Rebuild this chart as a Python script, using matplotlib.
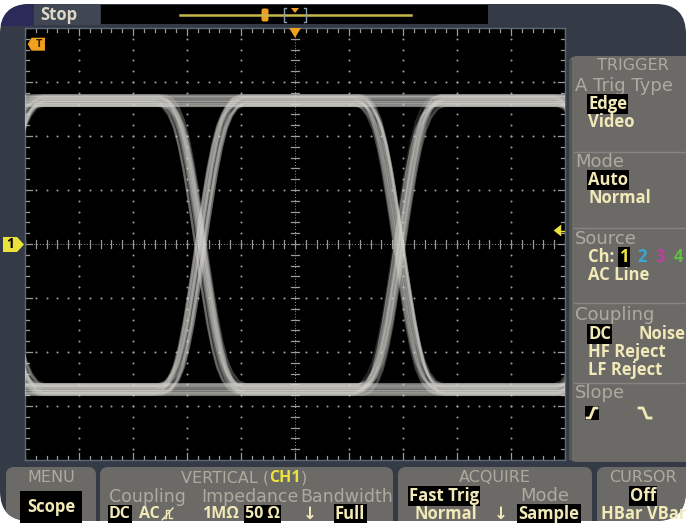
import numpy as np
import matplotlib
matplotlib.use("Agg")
import matplotlib.pyplot as plt
from matplotlib.patches import FancyBboxPatch, Rectangle, Polygon

plt.rcParams['font.family'] = ['Open Sans', 'DejaVu Sans']

# ---- eye diagram (divisions, 1.00 ns/div, 150 mV/div) ----
hi_level = 2.65
lo_level = -2.70
crossings = [-0.46, 3.26, 6.94, 10.64]
# shape of one falling edge around its crossing point
edge_t = [-0.75, -0.62, -0.50, -0.40, -0.31, -0.22, -0.15, -0.07, 0.0,
          0.07, 0.15, 0.22, 0.31, 0.40, 0.50, 0.62, 0.75]
edge_v = [1.0, 0.98, 0.92, 0.83, 0.70, 0.53, 0.37, 0.18, 0.0,
          -0.18, -0.37, -0.53, -0.70, -0.83, -0.92, -0.98, -1.0]
bit_patterns = [format(i, "05b") for i in range(32)]
jitter = [-0.10, -0.05, 0.0, 0.04, 0.08, -0.02, 0.05]
level_shift = [0.07, -0.06, 0.10, -0.09, 0.0, 0.04, -0.03]

# ---- menu texts ----
trigger_items = [("A Trig Type", 86, "head"), ("Edge", 104, "sel"), ("Video", 122, "item"),
                 ("Mode", 162, "head"), ("Auto", 180, "sel"), ("Normal", 198, "item"),
                 ("Source", 239, "head"), ("AC Line", 275, "item"),
                 ("Coupling", 315, "head"), ("DC", 334, "sel"),
                 ("HF Reject", 352, "item"), ("LF Reject", 370, "item"),
                 ("Slope", 393, "head")]
trigger_seps = [152, 228, 303, 383]
source_channels = ["1", "2", "3", "4"]
source_colors = ["#f0e040", "#3aa8d8", "#c040a0", "#60c040"]

CREAM = "#f2e9b8"
HEAD = "#aeaa9e"
PANEL = "#6b6a67"
BODY = "#343b46"
YEL = "#ece23c"
ORANGE = "#f0a020"
HEADFONT = ["DejaVu Sans"]

fig = plt.figure(figsize=(6.86, 5.23), dpi=100)
fig.patch.set_facecolor("white")
ax = fig.add_axes([0, 0, 1, 1])
ax.set_xlim(0, 686)
ax.set_ylim(523, 0)
ax.axis("off")

# device body with rounded corners
body = FancyBboxPatch((0, 4), 686, 517, boxstyle="round,pad=0,rounding_size=30",
                      fc=BODY, ec="none")
ax.add_patch(body)


def clipped(p):
    ax.add_patch(p)
    p.set_clip_path(body)
    return p


def head(x, y, s, ha="left", size=13):
    return ax.text(x, y, s, color=HEAD, fontsize=size, ha=ha, va="center", family=HEADFONT)


# top strip
clipped(Rectangle((0, 4), 34, 22, fc="#2c2a58", ec="none"))
clipped(Rectangle((34, 4), 66, 21, fc="#404754", ec="none"))
ax.text(40, 15, "Stop", color="#ddd8c4", fontsize=12, fontweight="bold", va="center")
clipped(Rectangle((101, 5), 387, 19, fc="black", ec="none"))
ax.plot([180, 411], [15, 15], color="#c8b848", lw=1.8)
clipped(FancyBboxPatch((262, 9), 6, 12, boxstyle="round,pad=0.5,rounding_size=2",
                       fc=ORANGE, ec="none"))
ax.plot([286, 284, 284, 286], [8, 8, 22, 22], color="#8aa0b0", lw=1)
ax.plot([304, 306, 306, 304], [8, 8, 22, 22], color="#8aa0b0", lw=1)
ax.add_patch(Polygon([[291, 8], [299, 8], [295, 13]], closed=True, fc=ORANGE, ec="none"))

# right trigger panel
clipped(FancyBboxPatch((569, 56), 140, 406, boxstyle="round,pad=0,rounding_size=8",
                       fc=PANEL, ec="none"))
clipped(Rectangle((569, 60), 3, 400, fc="#55544f", ec="none"))
head(633, 65, "TRIGGER", ha="center", size=11.5)
for s, y, kind in trigger_items:
    if kind == "head":
        head(575, y, s)
    elif kind == "sel":
        ax.text(588, y, s, color=CREAM, fontsize=12, fontweight="bold", va="center",
                bbox=dict(fc="black", ec="none", pad=1.0))
    else:
        ax.text(588, y, s, color=CREAM, fontsize=12, fontweight="bold", va="center")
t = ax.text(639, 334, "Noise", color=CREAM, fontsize=12, fontweight="bold", va="center")
t.set_clip_path(body)
for y in trigger_seps:
    ax.plot([574, 686], [y, y], color="#858480", lw=1)
ax.text(588, 257, "Ch:", color=CREAM, fontsize=12, fontweight="bold", va="center")
for i, (ch, c) in enumerate(zip(source_channels, source_colors)):
    kw = dict(bbox=dict(fc="black", ec="none", pad=0.6)) if i == 0 else {}
    ax.text(624 + 18 * i, 257, ch, color=c, fontsize=12, fontweight="bold",
            va="center", ha="center", **kw)
# slope icons
clipped(Rectangle((585, 406), 14, 14, fc="black", ec="none"))
ax.plot([587, 590, 594, 597], [418, 418, 408, 408], color=CREAM, lw=2)
ax.plot([639, 643, 647, 651], [408, 408, 418, 418], color=CREAM, lw=2)

# bottom panels
for x0, w in [(6, 90), (100, 293), (398, 194), (597, 100)]:
    clipped(FancyBboxPatch((x0, 467), w, 70, boxstyle="round,pad=0,rounding_size=8",
                           fc=PANEL, ec="none"))
head(51, 478, "MENU", ha="center", size=11.5)
ax.text(51, 507, "Scope", color=CREAM, fontsize=12, fontweight="bold", ha="center",
        va="center", bbox=dict(fc="black", ec="none", pad=5))
t1 = head(181, 478, "VERTICAL (", size=11.5)
t2 = ax.annotate("CH1", xy=(1, 0.5), xycoords=t1, color=YEL, fontsize=11.5,
                 fontweight="bold", ha="left", va="center")
ax.annotate(")", xy=(1, 0.5), xycoords=t2, color=HEAD, fontsize=11.5, ha="left",
            va="center", family=HEADFONT)
head(109, 497, "Coupling", size=12.5)
head(201, 497, "Impedance", size=12.5)
head(300, 497, "Bandwidth", size=12.5)
bk = dict(fc="black", ec="none", pad=0.8)
ax.text(109, 514, "DC", color=CREAM, fontsize=11.5, fontweight="bold", va="center", bbox=bk)
ax.text(139, 514, "AC", color=CREAM, fontsize=11.5, fontweight="bold", va="center")
ax.plot([163, 166, 166, 169, 169, 172], [518, 518, 510, 510, 518, 518], color=CREAM, lw=1)
ax.plot([162, 173], [520, 508], color=CREAM, lw=1)
ax.text(202, 514, "1M\u03a9", color=CREAM, fontsize=11.5, fontweight="bold", va="center")
ax.text(245, 514, "50 \u03a9", color=CREAM, fontsize=11.5, fontweight="bold", va="center",
        bbox=bk)
ax.text(303, 514, "\u2193", color=CREAM, fontsize=12, fontweight="bold", va="center",
        family=["DejaVu Sans"])
ax.text(335, 514, "Full", color=CREAM, fontsize=12, fontweight="bold", va="center", bbox=bk)
head(495, 478, "ACQUIRE", ha="center", size=11.5)
ax.text(444, 496, "Fast Trig", color=CREAM, fontsize=12, fontweight="bold", ha="center",
        va="center", bbox=bk)
head(545, 496, "Mode", ha="center")
ax.text(446, 514, "Normal", color=CREAM, fontsize=12, fontweight="bold", ha="center", va="center")
ax.text(501, 514, "\u2193", color=CREAM, fontsize=12, fontweight="bold", ha="center",
        va="center", family=["DejaVu Sans"])
ax.text(549, 514, "Sample", color=CREAM, fontsize=12, fontweight="bold", ha="center",
        va="center", bbox=bk)
head(643, 478, "CURSOR", ha="center", size=11.5)
ax.text(643, 496, "Off", color=CREAM, fontsize=12, fontweight="bold", ha="center",
        va="center", bbox=bk)
t = ax.text(601, 514, "HBar VBar", color=CREAM, fontsize=12, fontweight="bold", va="center")
t.set_clip_path(body)

# channel 1 marker on the left
ax.add_patch(Polygon([[3, 237], [17, 237], [24, 244.5], [17, 252], [3, 252]],
                     closed=True, fc=YEL, ec="none", zorder=5))
ax.text(10, 244.5, "1", color="black", fontsize=10, fontweight="bold", ha="center",
        va="center", zorder=6)

# ---- screen ----
sx, sy, sw, sh = 25, 28, 540, 432
scr = fig.add_axes([sx / 686, 1 - (sy + sh) / 523, sw / 686, sh / 523])
scr.set_facecolor("black")
scr.set_xlim(0, 10)
scr.set_ylim(-4, 4)
scr.set_xticks([])
scr.set_yticks([])
for sp in scr.spines.values():
    sp.set_color("#5a6878")
    sp.set_linewidth(1)

grid_c = "#9a9a9a"
minor = np.arange(0, 10.01, 0.2)
minor_y = np.arange(-4, 4.01, 0.2)
for gx in range(1, 10):
    if gx != 5:
        scr.scatter(np.full(minor_y.size, gx), minor_y, s=2.2, c=grid_c, lw=0, zorder=1)
for gy in range(-3, 4):
    if gy != 0:
        scr.scatter(minor, np.full(minor.size, gy), s=2.2, c=grid_c, lw=0, zorder=1)
# centre crosshair with ticks
scr.plot([0, 10], [0, 0], color=grid_c, lw=0.7, ls=(0, (1, 2)), zorder=1)
scr.plot([5, 5], [-4, 4], color=grid_c, lw=0.7, ls=(0, (1, 2)), zorder=1)
tk = 0.065
for x in minor:
    scr.plot([x, x], [-tk, tk], color=grid_c, lw=0.9, zorder=1)
    L = 0.13 if abs(x - round(x)) < 1e-6 else 0.08
    scr.plot([x, x], [4, 4 - L], color=grid_c, lw=0.9, zorder=1)
    scr.plot([x, x], [-4, -4 + L], color=grid_c, lw=0.9, zorder=1)
for y in minor_y:
    scr.plot([5 - tk, 5 + tk], [y, y], color=grid_c, lw=0.9, zorder=1)
    L = 0.13 if abs(y - round(y)) < 1e-6 else 0.08
    scr.plot([0, L], [y, y], color=grid_c, lw=0.9, zorder=1)
    scr.plot([10, 10 - L], [y, y], color=grid_c, lw=0.9, zorder=1)


def trace_points(bits, k, j):
    shift = level_shift[(3 * k + j) % len(level_shift)]
    levels = [(hi_level if b == "1" else lo_level) + shift for b in bits]
    xs, ys = [-1.5], [levels[0]]
    for i, c in enumerate(crossings):
        a, b = levels[i], levels[i + 1]
        if a == b:
            continue
        jit = jitter[(k + i + 2 * j) % len(jitter)]
        mid, half = (a + b) / 2, (a - b) / 2
        for tt, v in zip(edge_t, edge_v):
            xs.append(c + jit + tt)
            ys.append(mid + half * v)
    xs.append(11.5)
    ys.append(levels[-1])
    return xs, ys


for k, bits in enumerate(bit_patterns):
    for j in range(4):
        xs, ys = trace_points(bits, k, j)
        scr.plot(xs, ys, color="#d8d7d2", lw=1.7, alpha=0.16, zorder=3,
                 solid_joinstyle="round")

# trigger markers on screen
scr.add_patch(Polygon([[4.89, 4.0], [5.11, 4.0], [5.0, 3.82]], closed=True,
                      fc=ORANGE, ec="none", zorder=6))
scr.add_patch(Polygon([[0.05, 3.7], [0.12, 3.82], [0.37, 3.82], [0.37, 3.58], [0.12, 3.58]],
                      closed=True, fc=ORANGE, ec="none", zorder=6))
scr.text(0.25, 3.7, "T", color="#3a2000", fontsize=8, fontweight="bold", ha="center",
         va="center", zorder=7)
scr.add_patch(Polygon([[9.79, 0.25], [9.93, 0.36], [9.93, 0.14]], closed=True,
                      fc=YEL, ec="none", zorder=6))
scr.plot([9.93, 10], [0.25, 0.25], color=YEL, lw=1, zorder=6)

# readouts
rd = dict(fontsize=11.5, fontweight="bold", va="center")
ax.text(34, 410, "Ch1", color="black", bbox=dict(fc=YEL, ec="none", pad=0.6), **rd)
ax.text(82, 410, "150mV \u03a9", color=YEL, **rd)
ax.text(310, 410, "M 1.00ns  A", color="#e4e2da", **rd)
ax.text(427, 410, "Ch1", color=YEL, **rd)
ax.text(467, 410, "\u0283", color="#e4e2da", fontsize=12, va="center", family=["DejaVu Sans"])
ax.text(492, 410, "39.0mV", color="#e4e2da", **rd)
ax.text(310, 427, "DH", color="#e4e2da", **rd)
ax.text(311, 444, "T", color="#3a2000", fontsize=9, fontweight="bold", va="center",
        bbox=dict(fc=ORANGE, ec="none", pad=0.8))
ax.text(324, 444, "\u2192", color=ORANGE, fontsize=8, va="center", family=["DejaVu Sans"])
ax.add_patch(Polygon([[335, 439], [345, 439], [340, 446]], closed=True, fc=ORANGE, ec="none"))
ax.text(351, 444, "13.1200ns", color="#e4e2da", **rd)
ax.text(465, 444, "525", color="#e4e2da", **rd)

fig.savefig("out.png", dpi=100)
